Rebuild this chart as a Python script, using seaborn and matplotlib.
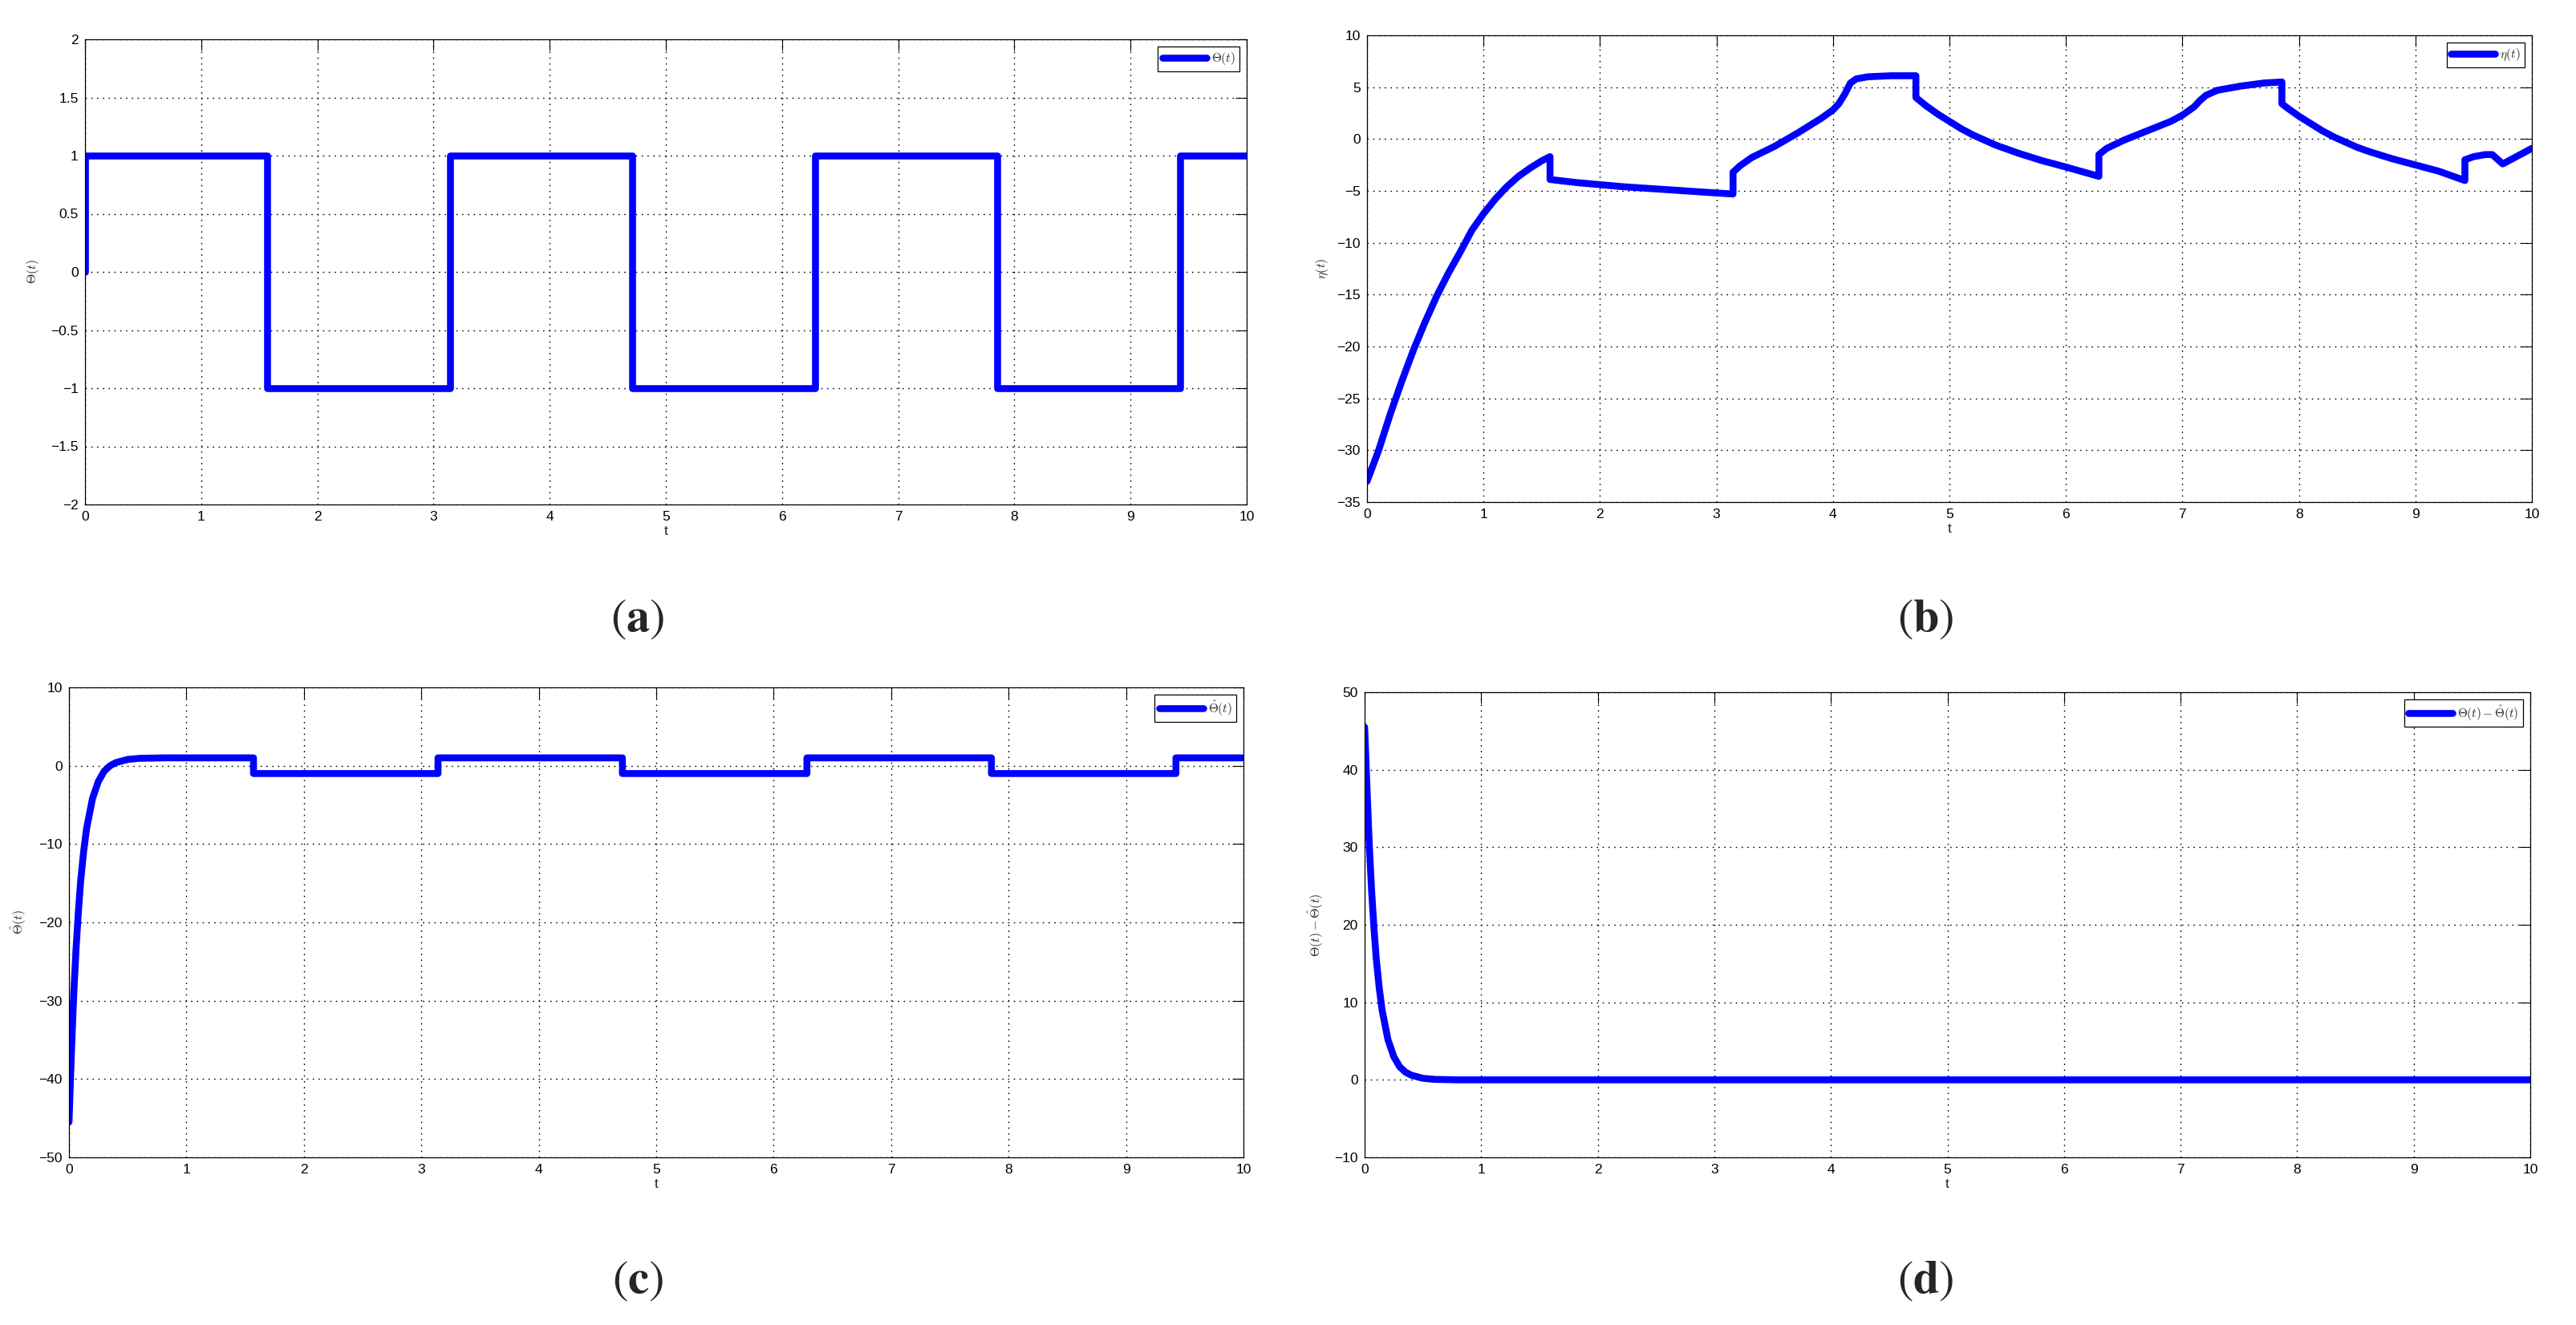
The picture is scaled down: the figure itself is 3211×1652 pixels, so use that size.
import matplotlib
matplotlib.use('Agg')
import matplotlib.pyplot as plt
import seaborn as sns
from matplotlib.ticker import FuncFormatter

# values
t_a = [0, 0, 1.571, 1.571, 3.142, 3.142, 4.712, 4.712, 6.283, 6.283, 7.854, 7.854, 9.425, 9.425, 10]
theta_a = [0, 1, 1, -1, -1, 1, 1, -1, -1, 1, 1, -1, -1, 1, 1]

t_b = [0, 0.1, 0.2, 0.3, 0.4, 0.5, 0.6, 0.7, 0.8, 0.9, 1.0, 1.1, 1.2, 1.3, 1.4, 1.5, 1.571,
       1.571, 1.8, 2.2, 2.6, 3.0, 3.142,
       3.142, 3.2, 3.3, 3.5, 3.7, 3.9, 4.0, 4.05, 4.1, 4.15, 4.2, 4.3, 4.5, 4.712,
       4.712, 4.8, 4.9, 5.0, 5.1, 5.2, 5.3, 5.4, 5.6, 5.8, 6.0, 6.283,
       6.283, 6.35, 6.5, 6.7, 6.9, 7.0, 7.1, 7.15, 7.2, 7.3, 7.5, 7.7, 7.854,
       7.854, 7.9, 8.0, 8.1, 8.2, 8.3, 8.4, 8.5, 8.6, 8.8, 9.0, 9.2, 9.425,
       9.425, 9.5, 9.6, 9.66, 9.75, 9.85, 10]
eta_b = [-33, -30, -26.5, -23.3, -20.3, -17.6, -15.1, -12.9, -10.9, -8.8, -7.2, -5.8, -4.6, -3.6, -2.8, -2.1, -1.7,
         -3.9, -4.2, -4.6, -4.9, -5.2, -5.3,
         -3.2, -2.6, -1.8, -0.7, 0.6, 2.0, 2.8, 3.4, 4.3, 5.4, 5.8, 6.0, 6.1, 6.1,
         4.0, 3.2, 2.4, 1.7, 1.0, 0.4, -0.1, -0.6, -1.4, -2.1, -2.7, -3.6,
         -1.5, -0.9, -0.1, 0.8, 1.7, 2.3, 3.1, 3.7, 4.2, 4.7, 5.1, 5.4, 5.5,
         3.4, 3.0, 2.2, 1.5, 0.8, 0.2, -0.3, -0.8, -1.2, -1.9, -2.5, -3.1, -4.0,
         -2.0, -1.7, -1.5, -1.5, -2.4, -1.8, -0.9]

t_c = [0, 0.02, 0.04, 0.06, 0.08, 0.10, 0.125, 0.15, 0.20, 0.25, 0.30, 0.35, 0.40, 0.50, 0.60, 0.80,
       1.571, 1.571, 3.142, 3.142, 4.712, 4.712, 6.283, 6.283, 7.854, 7.854, 9.425, 9.425, 10]
theta_hat_c = [-45.5, -36.8, -29.3, -23.4, -18.6, -14.6, -10.9, -8.0, -4.2, -2.0, -0.7, 0.0, 0.4, 0.8, 0.94, 1.0,
               1, -1, -1, 1, 1, -1, -1, 1, 1, -1, -1, 1, 1]

t_d = [0, 0.02, 0.04, 0.06, 0.08, 0.10, 0.125, 0.15, 0.20, 0.25, 0.30, 0.35, 0.40, 0.50, 0.60, 0.80, 10]
err_d = [45.5, 37.8, 30.3, 24.4, 19.6, 15.6, 11.9, 9.0, 5.2, 3.0, 1.7, 1.0, 0.6, 0.2, 0.06, 0.0, 0.0]

xticks = list(range(0, 11))
yticks_a = [-2, -1.5, -1, -0.5, 0, 0.5, 1, 1.5, 2]
yticks_b = [-35, -30, -25, -20, -15, -10, -5, 0, 5, 10]
yticks_c = [-50, -40, -30, -20, -10, 0, 10]
yticks_d = [-10, 0, 10, 20, 30, 40, 50]

sns.set_style('white')
plt.rcParams['font.family'] = ['Liberation Sans', 'DejaVu Sans']
plt.rcParams['mathtext.fontset'] = 'cm'

W, H = 3211, 1652
fig = plt.figure(figsize=(W / 100, H / 100), dpi=100)
fig.patch.set_facecolor('white')

def fmt(v, pos):
    return ('%g' % v).replace('-', '\u2212')

# (left, right, top, bottom) in pixels, data, label, ylabel x offset
panels = [
    ((106, 1554, 49, 629), t_a, theta_a, r'$\Theta(t)$', yticks_a, -0.038, '(a)', (795, 772)),
    ((1704, 3156, 44, 626), t_b, eta_b, r'$\eta(t)$', yticks_b, -0.032, '(b)', (2400, 772)),
    ((86, 1550, 857, 1443), t_c, theta_hat_c, r'$\hat{\Theta}(t)$', yticks_c, -0.035, '(c)', (795, 1597)),
    ((1701, 3154, 863, 1443), t_d, err_d, r'$\Theta(t)-\hat{\Theta}(t)$', yticks_d, -0.034, '(d)', (2400, 1597)),
]

for (l, r, t, b), xs, ys, lab, yt, ylx, tag, (tx, ty) in panels:
    ax = fig.add_axes([l / W, 1 - b / H, (r - l) / W, (b - t) / H])
    sns.lineplot(x=xs, y=ys, ax=ax, estimator=None, sort=False, color='#0000ff',
                 linewidth=6.2, label=lab)
    ax.set_xlim(0, 10)
    ax.set_ylim(yt[0], yt[-1])
    ax.set_xticks(xticks)
    ax.set_yticks(yt)
    ax.xaxis.set_major_formatter(FuncFormatter(fmt))
    ax.yaxis.set_major_formatter(FuncFormatter(fmt))
    ax.tick_params(direction='in', top=True, right=True, length=10, width=0.8,
                   labelsize=12.5, pad=6, colors='black')
    ax.grid(True, color='black', linestyle=(0, (1.2, 4.0)), linewidth=1.0)
    ax.set_axisbelow(True)
    for sp in ax.spines.values():
        sp.set_color('black')
        sp.set_linewidth(0.9)
        sp.set_visible(True)
    ax.set_xlabel('t', fontsize=12.5, labelpad=2)
    ax.set_ylabel(lab, fontsize=11.5)
    ax.yaxis.set_label_coords(ylx, 0.5)
    leg = ax.legend(loc='upper right', bbox_to_anchor=(1 - 9 / (r - l), 1 - 9 / (b - t)),
                    borderaxespad=0, fontsize=11, handlelength=3.6, handletextpad=0.4,
                    borderpad=0.35, fancybox=False, framealpha=1)
    leg.get_frame().set_edgecolor('black')
    leg.get_frame().set_linewidth(0.9)
    fig.text(tx / W, 1 - ty / H, r'$(\mathbf{' + tag[1] + r'})$', ha='center', va='center',
             fontsize=42, math_fontfamily='stix')

fig.savefig('out.png', dpi=100)
